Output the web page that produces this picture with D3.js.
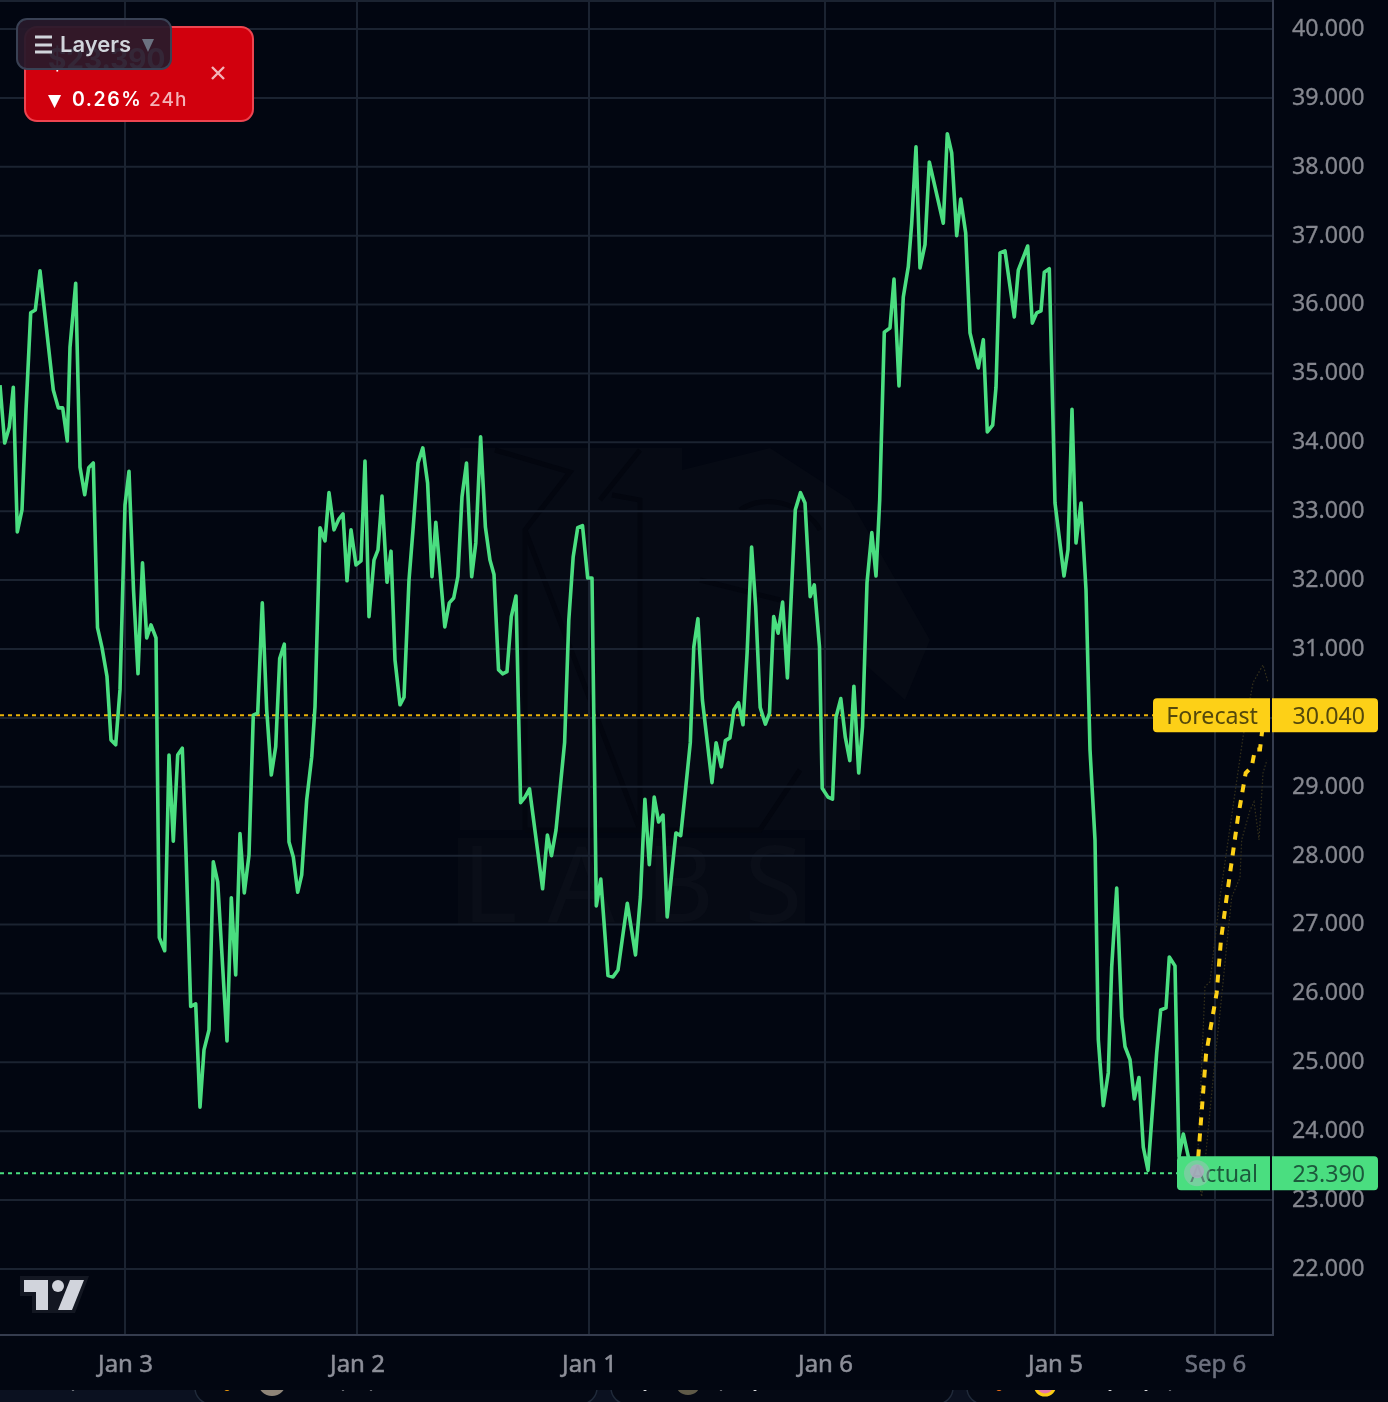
<!DOCTYPE html>
<html>
<head>
<meta charset="utf-8">
<script src="https://cdn.jsdelivr.net/npm/d3@7"></script>
<style>
  html, body { margin: 0; padding: 0; background: #020611; overflow: hidden; }
  svg { display: block; }
  .axis text { font-family: "Noto Sans", sans-serif; }
  .axis path, .axis line { display: none; }
</style>
</head>
<body>
<svg id="chart" width="1388" height="1402"></svg>
<script>
// values. bars are chart bars counted from the left edge
const priceTicks = [22, 23, 24, 25, 26, 27, 28, 29, 30, 31, 32, 33, 34, 35, 36, 37, 38, 39, 40];
const timeTicks = [25, 71.4, 117.8, 165, 211, 243];
const timeLabels = ["Jan 3", "Jan 2", "Jan 1", "Jan 6", "Jan 5", "Sep 6"];

const actualBars = [
  0, 0.94, 1.86, 2.66, 3.46, 4.4, 5.2, 6.14, 7.06, 8, 8.94, 10.66, 11.66, 12.54, 13.46, 14, 15.14, 16, 16.94, 17.74,
  18.66, 19.5, 20.4, 21.4, 22.2, 23.14, 24, 25, 25.8, 26.7, 27.6, 28.5, 29.34, 30.2, 31.2, 31.86, 32.94, 33.8, 34.66, 35.54,
  36.46, 37.2, 38.14, 39.14, 40, 40.8, 41.8, 42.66, 43.54, 45.4, 46.26, 47.14, 48, 48.86, 49.8, 50.66, 51.54, 52.46, 53.34, 54.26,
  55.14, 55.94, 56.86, 57.8, 58.66, 59.54, 60.34, 61.34, 62.34, 63, 64, 65, 65.8, 66.8, 67.8, 68.6, 69.4, 70.2, 71.2, 72.2,
  73, 73.8, 74.8, 75.6, 76.4, 77.4, 78.2, 79, 80, 80.8, 81.8, 82.6, 83.6, 84.56, 85.52, 86.4, 87.16, 88.96, 89.86, 90.74,
  91.58, 92.4, 93.3, 94.34, 95.16, 96.12, 97.08, 98, 98.8, 99.7, 100.52, 101.4, 102.26, 103.2, 104.12, 105, 105.9, 108.52, 109.48, 110.3,
  111.2, 112.92, 113.76, 114.64, 115.54, 116.5, 117.54, 118.4, 119.26, 120.16, 121.6, 122.6, 123.6, 125.46, 127.1, 128.08, 128.98, 129.86, 130.84, 131.72,
  132.6, 133.44, 135.18, 136.14, 137.04, 138.06, 138.76, 139.58, 140.48, 142.4, 143.22, 144.26, 145.08, 145.98, 146.8, 147.7, 148.6, 149.42, 150.32, 151.14,
  152.04, 153.08, 153.9, 154.74, 155.62, 156.52, 157.48, 159.06, 160.1, 161, 162.04, 162.86, 163.9, 164.44, 165.6, 166.5, 167.2, 168.16, 169.06, 169.96,
  170.78, 171.74, 172.5, 173.4, 174.36, 175.2, 175.94, 176.86, 178, 178.8, 179.8, 180.66, 181.66, 182.34, 183.2, 184, 185, 185.86, 188.66, 189.46,
  190.34, 191.34, 192.14, 193.14, 194, 195.66, 196.66, 197.46, 198.54, 199.2, 200, 201, 202.86, 203.66, 205.54, 206.46, 207.34, 208.2, 208.86, 209.86,
  211, 212.8, 213.6, 214.4, 215.2, 216.2, 217.2, 218, 219, 219.66, 220.66, 221.66, 222.34, 223.34, 224.34, 225, 226, 226.86, 227.8, 228.66,
  229.6, 231.34, 232.14, 233.2, 233.86, 235, 235.8, 236.66, 237.66, 239.4
];
const actualPrices = [
  34.83, 33.99, 34.22, 34.80, 32.70, 33.02, 34.47, 35.88, 35.92, 36.49, 35.88, 34.76, 34.50, 34.50, 34.02, 35.38, 36.31, 33.64, 33.24, 33.63,
  33.70, 31.31, 31.02, 30.60, 29.68, 29.61, 30.41, 33.09, 33.58, 31.86, 30.64, 32.25, 31.16, 31.35, 31.16, 26.81, 26.62, 29.46, 28.21, 29.46,
  29.56, 28.04, 25.81, 25.85, 24.35, 25.18, 25.47, 27.91, 27.62, 25.31, 27.39, 26.27, 28.32, 27.46, 28.01, 30.04, 30.07, 31.67, 30.12, 29.17,
  29.58, 30.86, 31.07, 28.20, 27.98, 27.47, 27.72, 28.81, 29.43, 30.16, 32.76, 32.57, 33.27, 32.73, 32.89, 32.96, 31.99, 32.73, 32.22, 32.28,
  33.73, 31.47, 32.29, 32.44, 33.22, 31.97, 32.42, 30.84, 30.19, 30.30, 32.00, 32.73, 33.70, 33.92, 33.41, 32.05, 32.84, 31.32, 31.67, 31.74,
  32.05, 33.21, 33.70, 32.05, 32.54, 34.08, 32.77, 32.29, 32.08, 30.70, 30.64, 30.67, 31.47, 31.77, 28.77, 28.85, 28.97, 27.52, 28.30, 28.00,
  28.37, 29.64, 31.42, 32.34, 32.76, 32.79, 32.03, 32.03, 27.27, 27.66, 26.26, 26.24, 26.34, 27.31, 26.56, 27.40, 28.82, 27.87, 28.85, 28.49,
  28.59, 27.11, 28.33, 28.29, 28.91, 29.64, 31.03, 31.44, 30.26, 29.06, 29.64, 29.29, 29.67, 29.71, 30.12, 30.22, 29.90, 30.94, 32.48, 31.61,
  30.15, 29.91, 30.07, 31.47, 31.23, 31.68, 30.58, 33.02, 33.27, 33.12, 31.76, 31.93, 31.03, 28.98, 28.85, 28.82, 30.01, 30.28, 29.72, 29.38,
  30.46, 29.20, 29.87, 31.96, 32.69, 32.06, 33.16, 35.60, 35.66, 36.37, 34.82, 36.11, 36.55, 37.18, 38.29, 36.53, 36.87, 38.07, 37.18, 38.48,
  38.20, 37.00, 37.53, 37.04, 35.59, 35.08, 35.49, 34.15, 34.25, 34.80, 36.75, 36.78, 35.82, 36.50, 36.85, 35.73, 35.88, 35.91, 36.47, 36.52,
  33.12, 32.06, 32.44, 34.48, 32.54, 33.12, 31.86, 29.54, 28.23, 25.33, 24.37, 24.85, 26.39, 27.53, 25.66, 25.23, 25.04, 24.47, 24.78, 23.77,
  23.43, 25.14, 25.76, 25.79, 26.53, 26.40, 23.63, 23.96, 23.63, 23.39
];

const forecastBars = [239.4, 241.2, 243.34, 244.2, 245.34, 247.6, 249.14, 250.34, 251, 252, 252.8];
const forecastPrices = [23.39, 25.11, 26.01, 26.78, 27.40, 28.56, 29.20, 29.29, 29.54, 29.54, 30.04];
const upperBars = [239.4, 241, 242, 244, 248.6, 250.6, 252.6, 253.6];
const upperPrices = [23.39, 26.10, 26.17, 27.40, 29.72, 30.51, 30.77, 30.52];
const lowerBars = [239.4, 240.34, 243, 244, 245.6, 246.34, 248, 248.34, 250, 250.8, 251.8, 252.6, 253.4];
const lowerPrices = [23.39, 23.05, 25.04, 25.72, 26.88, 27.40, 27.68, 28.23, 28.66, 28.78, 28.23, 29.20, 29.39];

const forecastLast = 30.04;
const actualLast = 23.39;

const green = "#4ade80", yellow = "#fdd017", gridColor = "#1b2331", axisColor = "#353c4e";
const plotRight = 1273, plotBottom = 1335;

const svg = d3.select("#chart");
const x = d3.scaleLinear().domain([0, 254.6]).range([0, plotRight]);
const y = d3.scaleLinear().domain([22, 40]).range([1269, 29]);

// strip of the page under the chart
const strip = svg.append("g");
strip.append("rect").attr("x", 0).attr("y", 1390).attr("width", 1388).attr("height", 12).attr("fill", "#0b1120");
[[195, 402], [611, 342], [967, 460]].forEach(c => {
  strip.append("rect").attr("x", c[0]).attr("y", 1340).attr("width", c[1]).attr("height", 64).attr("rx", 16)
    .attr("fill", "#050914").attr("stroke", "#202a3a").attr("stroke-width", 1.5);
});
[[227, 1388, 3, "#f59e0b"], [272, 1382, 14, "#8f8578"], [688, 1382, 13, "#5f5a48"], [999, 1388, 3, "#f97316"],
 [73, 1389, 1.5, "#ffffff"], [343, 1389, 1.5, "#ffffff"], [371, 1389, 1.5, "#ffffff"], [645, 1389, 2, "#ffffff"], [721, 1389, 1.5, "#ffffff"],
 [755, 1389, 2, "#ffffff"], [1110, 1389, 2, "#ffffff"], [1146, 1389, 2, "#ffffff"], [1170, 1389, 1.5, "#ffffff"]].forEach(d => {
  strip.append("circle").attr("cx", d[0]).attr("cy", d[1]).attr("r", d[2]).attr("fill", d[3]);
});
strip.append("circle").attr("cx", 1045).attr("cy", 1385).attr("r", 10).attr("fill", "#e879a8").attr("stroke", "#facc15").attr("stroke-width", 3);
svg.append("rect").attr("x", 0).attr("y", 1337).attr("width", 1388).attr("height", 53).attr("fill", "#020611");

const chart = svg.append("g").style("filter", "blur(0.6px)");

// watermark
const mark = chart.append("g");
mark.append("path").attr("fill", "#060a14")
  .attr("d", "M460 448H682V830H460Z M682 470L770 448L850 500L930 640L905 700L860 660V830H682Z M458 838H805V925H458Z");
mark.append("path").attr("fill", "none").attr("stroke", "#03060f").attr("stroke-width", 5)
  .attr("d", "M495 450L570 472L525 530V830 M525 530L640 830 M640 530V830 M612 495L640 500V650 M600 500L640 450 M525 830H760L800 770 M700 580L780 600 M740 510C770 490 810 510 820 530");
mark.append("text").attr("x", 462).attr("y", 922).attr("font-family", "Noto Sans, sans-serif").attr("font-size", 106)
  .attr("letter-spacing", 30).attr("fill", "#0a0e18").text("LABS");

// grid
chart.append("line").attr("x1", 0).attr("x2", plotRight).attr("y1", 1).attr("y2", 1).attr("stroke", gridColor).attr("stroke-width", 2);
chart.append("g").selectAll("line").data(priceTicks).join("line")
  .attr("x1", 0).attr("x2", plotRight).attr("y1", d => y(d)).attr("y2", d => y(d))
  .attr("stroke", gridColor).attr("stroke-width", 2);
chart.append("g").selectAll("line").data(timeTicks).join("line")
  .attr("x1", d => x(d)).attr("x2", d => x(d)).attr("y1", 0).attr("y2", plotBottom)
  .attr("stroke", gridColor).attr("stroke-width", 2);

// last value lines
chart.append("line").attr("x1", 0).attr("x2", 1153).attr("y1", y(forecastLast)).attr("y2", y(forecastLast))
  .attr("stroke", "#eab308").attr("stroke-width", 2).attr("stroke-dasharray", "4 4");
chart.append("line").attr("x1", 0).attr("x2", 1177).attr("y1", y(actualLast)).attr("y2", y(actualLast))
  .attr("stroke", green).attr("stroke-width", 2).attr("stroke-dasharray", "4 4");

const pathFor = (bars, prices) => d3.line().x((d, i) => x(bars[i])).y(d => y(d))(prices);

// forecast band
chart.append("path").attr("d", pathFor(upperBars, upperPrices)).attr("fill", "none")
  .attr("stroke", "#35311c").attr("stroke-width", 1.2).attr("stroke-dasharray", "1.5 2");
chart.append("path").attr("d", pathFor(lowerBars, lowerPrices)).attr("fill", "none")
  .attr("stroke", "#35311c").attr("stroke-width", 1.2).attr("stroke-dasharray", "1.5 2");

chart.append("path").attr("d", pathFor(actualBars, actualPrices)).attr("fill", "none")
  .attr("stroke", green).attr("stroke-width", 3.6).attr("stroke-linejoin", "round");

chart.append("path").attr("d", pathFor(forecastBars, forecastPrices)).attr("fill", "none")
  .attr("stroke", yellow).attr("stroke-width", 4).attr("stroke-dasharray", "8 8");

// axis lines
chart.append("line").attr("x1", plotRight).attr("x2", plotRight).attr("y1", 0).attr("y2", plotBottom + 1)
  .attr("stroke", axisColor).attr("stroke-width", 2);
chart.append("line").attr("x1", 0).attr("x2", plotRight).attr("y1", plotBottom).attr("y2", plotBottom)
  .attr("stroke", axisColor).attr("stroke-width", 2);

// axes
const priceAxis = chart.append("g").attr("class", "axis").attr("transform", `translate(${plotRight},0)`)
  .call(d3.axisRight(y).tickValues(priceTicks).tickFormat(d3.format(".3f")).tickSize(0).tickPadding(19));
priceAxis.selectAll("text").attr("y", -1).attr("font-size", 23.2).attr("fill", "#85878f")
  .attr("stroke", "#85878f").attr("stroke-width", 0.3);

const timeAxis = chart.append("g").attr("class", "axis").attr("transform", `translate(0,${plotBottom})`)
  .call(d3.axisBottom(x).tickValues(timeTicks).tickFormat((d, i) => timeLabels[i]).tickSize(0).tickPadding(20));
timeAxis.selectAll("text").attr("font-size", 24)
  .attr("fill", (d, i) => timeLabels[i].startsWith("Sep") ? "#6d717f" : "#8d8f99")
  .attr("stroke", (d, i) => timeLabels[i].startsWith("Sep") ? "#6d717f" : "#8d8f99").attr("stroke-width", 0.5);

// price tags
function priceTag(value, name, left, fill, ink) {
  const cy = y(value), top = cy - 17, h = 34;
  chart.append("path").attr("fill", fill)
    .attr("d", `M${left + 4} ${top}H1270V${top + h}H${left + 4}Q${left} ${top + h} ${left} ${top + h - 4}V${top + 4}Q${left} ${top} ${left + 4} ${top}Z`);
  chart.append("path").attr("fill", fill)
    .attr("d", `M1272 ${top}H1374Q1378 ${top} 1378 ${top + 4}V${top + h - 4}Q1378 ${top + h} 1374 ${top + h}H1272Z`);
  chart.append("text").attr("x", 1258).attr("y", cy + 3).attr("text-anchor", "end").attr("dominant-baseline", "middle")
    .attr("font-family", "Noto Sans, sans-serif").attr("font-size", 23.2).attr("fill", ink).text(name);
  chart.append("text").attr("x", 1365).attr("y", cy + 3).attr("text-anchor", "end").attr("dominant-baseline", "middle")
    .attr("font-family", "Noto Sans, sans-serif").attr("font-size", 23.2).attr("fill", ink).text(d3.format(".3f")(value));
}
priceTag(forecastLast, "Forecast", 1153, yellow, "#54480c");
priceTag(actualLast, "Actual", 1177, green, "#1c5a3c");

// end dot of the actual line
chart.append("circle").attr("cx", x(239.4)).attr("cy", y(actualLast)).attr("r", 13).attr("fill", "#b9bccb").attr("opacity", 0.4);
chart.append("circle").attr("cx", x(239.4)).attr("cy", y(actualLast) - 2).attr("r", 7).attr("fill", "#a9abbd").attr("opacity", 0.9);

// logo
const logo = svg.append("g");
logo.append("path").attr("fill", "#131722").attr("d", "M20 1276H89L75 1313H32V1296H20Z");
logo.append("path").attr("fill", "#d1d4dc").attr("d", "M24 1280H48V1310H36V1292H24Z M70 1280H84L72 1310H58Z");
logo.append("circle").attr("cx", 58).attr("cy", 1286).attr("r", 6).attr("fill", "#d1d4dc");

// price card
const card = svg.append("g");
card.append("rect").attr("x", 25).attr("y", 27).attr("width", 228).attr("height", 94).attr("rx", 12)
  .attr("fill", "#d1000d").attr("stroke", "#ee4450").attr("stroke-width", 2);
card.append("text").attr("x", 48).attr("y", 69).attr("font-family", "Inter, sans-serif").attr("font-weight", 700)
  .attr("font-size", 28).attr("fill", "#ffffff").text("$23.390");
card.append("text").attr("x", 48).attr("y", 106).attr("font-family", "DejaVu Sans, sans-serif").attr("font-size", 17)
  .attr("fill", "#ffffff").text("▼");
card.append("text").attr("x", 72).attr("y", 106).attr("font-family", "Inter, sans-serif").attr("font-weight", 600)
  .attr("font-size", 19.5).attr("letter-spacing", 1.5).attr("fill", "#ffffff").text("0.26%");
card.append("text").attr("x", 149).attr("y", 106).attr("font-family", "Inter, sans-serif").attr("font-weight", 500)
  .attr("font-size", 19).attr("letter-spacing", 1).attr("fill", "#f4b3b8").text("24h");
card.append("path").attr("d", "M212 67L224 79M224 67L212 79").attr("stroke", "#f4b3b8").attr("stroke-width", 2.4).attr("fill", "none");

// layers button
const btn = svg.append("g");
btn.append("rect").attr("x", 17).attr("y", 19).attr("width", 154).attr("height", 50).attr("rx", 10)
  .attr("fill", "#271a2a").attr("fill-opacity", 0.94).attr("stroke", "#394154").attr("stroke-width", 2);
btn.append("path").attr("d", "M35 37H52M35 45H52M35 52H52").attr("stroke", "#d1d5db").attr("stroke-width", 3);
btn.append("text").attr("x", 60).attr("y", 52).attr("font-family", "Inter, sans-serif").attr("font-weight", 600)
  .attr("font-size", 22).attr("fill", "#d1d5db").text("Layers");
btn.append("path").attr("d", "M142 39H154L148 52Z").attr("fill", "#6b7280");
</script>
</body>
</html>
